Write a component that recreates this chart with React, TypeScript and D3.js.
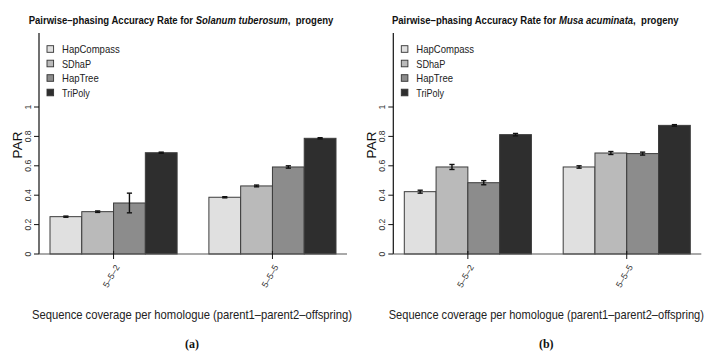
import React from "react";
import * as d3 from "d3";

// data
const methods = ["HapCompass", "SDhaP", "HapTree", "TriPoly"];
const legendWidths = [57.7, 29, 36.7, 27.7];
const coverages = ["5–5–2", "5–5–5"];
const fills = ["#e0e0e0", "#bababa", "#8c8c8c", "#2e2e2e"];
const yTicks = [0, 0.2, 0.4, 0.6, 0.8, 1];

const solanumPAR = [
  [0.254, 0.288, 0.347, 0.689],
  [0.386, 0.463, 0.592, 0.787],
];
const solanumErr = [
  [0.004, 0.005, 0.067, 0.004],
  [0.004, 0.006, 0.008, 0.004],
];
const musaPAR = [
  [0.424, 0.592, 0.485, 0.812],
  [0.592, 0.687, 0.683, 0.875],
];
const musaErr = [
  [0.01, 0.017, 0.014, 0.008],
  [0.008, 0.01, 0.01, 0.005],
];

const W = 712;
const H = 353;
const SANS = "'Liberation Sans', Arial, sans-serif";

const y = d3.scaleLinear().domain([0, 1]).range([254, 107]);

type PanelProps = {
  axisX: number;
  species: string;
  labelScale: number;
  values: number[][];
  errs: number[][];
  tag: string;
};

function Panel({ axisX, species, labelScale, values, errs, tag }: PanelProps) {
  // bar units: group g, bar i starts at g*5+i (one bar of space between groups)
  const x = d3.scaleLinear().domain([0, 9]).range([axisX + 11, axisX + 297]);
  const bw = x(1) - x(0);
  const titleCx = axisX + 142;
  const labelCx = axisX + 153;

  return (
    <g>
      {/* title, narrow helvetica look */}
      <g transform={`translate(${titleCx},24) scale(0.868,1)`}>
        <text
          textAnchor="middle"
          fontFamily={SANS}
          fontWeight="bold"
          fontSize={11}
          fill="#111"
          style={{ whiteSpace: "pre" }}
        >
          Pairwise–phasing Accuracy Rate for{" "}
          <tspan fontStyle="italic">{species}</tspan>{",\u00a0 progeny"}
        </text>
      </g>

      {/* bars */}
      {values.map((grp, g) =>
        grp.map((v, i) => (
          <rect
            key={`b${g}${i}`}
            x={x(g * 5 + i)}
            y={y(v)}
            width={bw}
            height={y(0) - y(v)}
            fill={fills[i]}
            stroke="#3c3c3c"
            strokeWidth={1}
          />
        ))
      )}

      {/* error bars */}
      {values.map((grp, g) =>
        grp.map((v, i) => {
          const cx = x(g * 5 + i) + bw / 2;
          const e = errs[g][i];
          const y1 = y(v + e);
          const y2 = y(v - e);
          return (
            <g key={`e${g}${i}`} stroke="#111" strokeWidth={1.4}>
              <line x1={cx} x2={cx} y1={y1} y2={y2} />
              <line x1={cx - 2.6} x2={cx + 2.6} y1={y1} y2={y1} />
              <line x1={cx - 2.6} x2={cx + 2.6} y1={y2} y2={y2} />
            </g>
          );
        })
      )}

      {/* y axis */}
      <line x1={axisX} x2={axisX} y1={33} y2={y(0)} stroke="#111" strokeWidth={1.2} />
      {yTicks.map((t) => (
        <g key={t}>
          <line x1={axisX - 5} x2={axisX} y1={y(t)} y2={y(t)} stroke="#111" strokeWidth={1} />
          <text
            transform={`translate(${axisX - 8},${y(t)}) rotate(-90)`}
            textAnchor="middle"
            fontFamily={SANS}
            fontSize={8.6}
            fill="#333"
          >
            {t === 0 || t === 1 ? String(t) : t.toFixed(1)}
          </text>
        </g>
      ))}
      <text
        transform={`translate(${axisX - 17},145) rotate(-90)`}
        textAnchor="middle"
        fontFamily={SANS}
        fontSize={13.5}
        fill="#111"
      >
        PAR
      </text>

      {/* x axis */}
      <line x1={axisX} x2={axisX + 308} y1={y(0)} y2={y(0)} stroke="#555" strokeWidth={1.2} />
      {coverages.map((c, g) => {
        const cx = x(g * 5 + 2);
        return (
          <g key={c}>
            <line x1={cx} x2={cx} y1={y(0) - 3} y2={y(0) + 5} stroke="#111" strokeWidth={1} />
            <text
              transform={`translate(${cx + 1},${y(0) + 10}) rotate(-60)`}
              textAnchor="end"
              dy="0.7em"
              fontFamily={SANS}
              fontSize={8.8}
              fill="#333"
            >
              {c}
            </text>
          </g>
        );
      })}
      <g transform={`translate(${labelCx},319) scale(${labelScale},1)`}>
        <text textAnchor="middle" fontFamily={SANS} fontSize={12.5} fill="#222">
          Sequence coverage per homologue (parent1–parent2–offspring)
        </text>
      </g>
      <text
        x={labelCx}
        y={348}
        textAnchor="middle"
        fontFamily="'Liberation Serif', 'Times New Roman', serif"
        fontWeight="bold"
        fontSize={12}
        fill="#111"
      >
        {tag}
      </text>

      {/* legend */}
      {methods.map((m, i) => {
        const cy = 49 + i * 14.5;
        return (
          <g key={m}>
            <rect
              x={axisX + 8}
              y={cy - 3.3}
              width={6.6}
              height={6.6}
              fill={fills[i]}
              stroke="#333"
              strokeWidth={0.9}
            />
            <text
              x={axisX + 23}
              y={cy + 4}
              textLength={legendWidths[i]}
              lengthAdjust="spacingAndGlyphs"
              fontFamily={SANS}
              fontSize={11}
              fill="#222"
            >
              {m}
            </text>
          </g>
        );
      })}
    </g>
  );
}

export default function App() {
  return (
    <svg
      width={W}
      height={H}
      viewBox={`0 0 ${W} ${H}`}
      style={{ position: "absolute", left: 0, top: 0, background: "#fff" }}
    >
      <rect width={W} height={H} fill="#fff" />
      <Panel
        axisX={39}
        species="Solanum tuberosum"
        labelScale={0.9}
        values={solanumPAR}
        errs={solanumErr}
        tag="(a)"
      />
      <Panel
        axisX={393.3}
        species="Musa acuminata"
        labelScale={0.885}
        values={musaPAR}
        errs={musaErr}
        tag="(b)"
      />
    </svg>
  );
}
